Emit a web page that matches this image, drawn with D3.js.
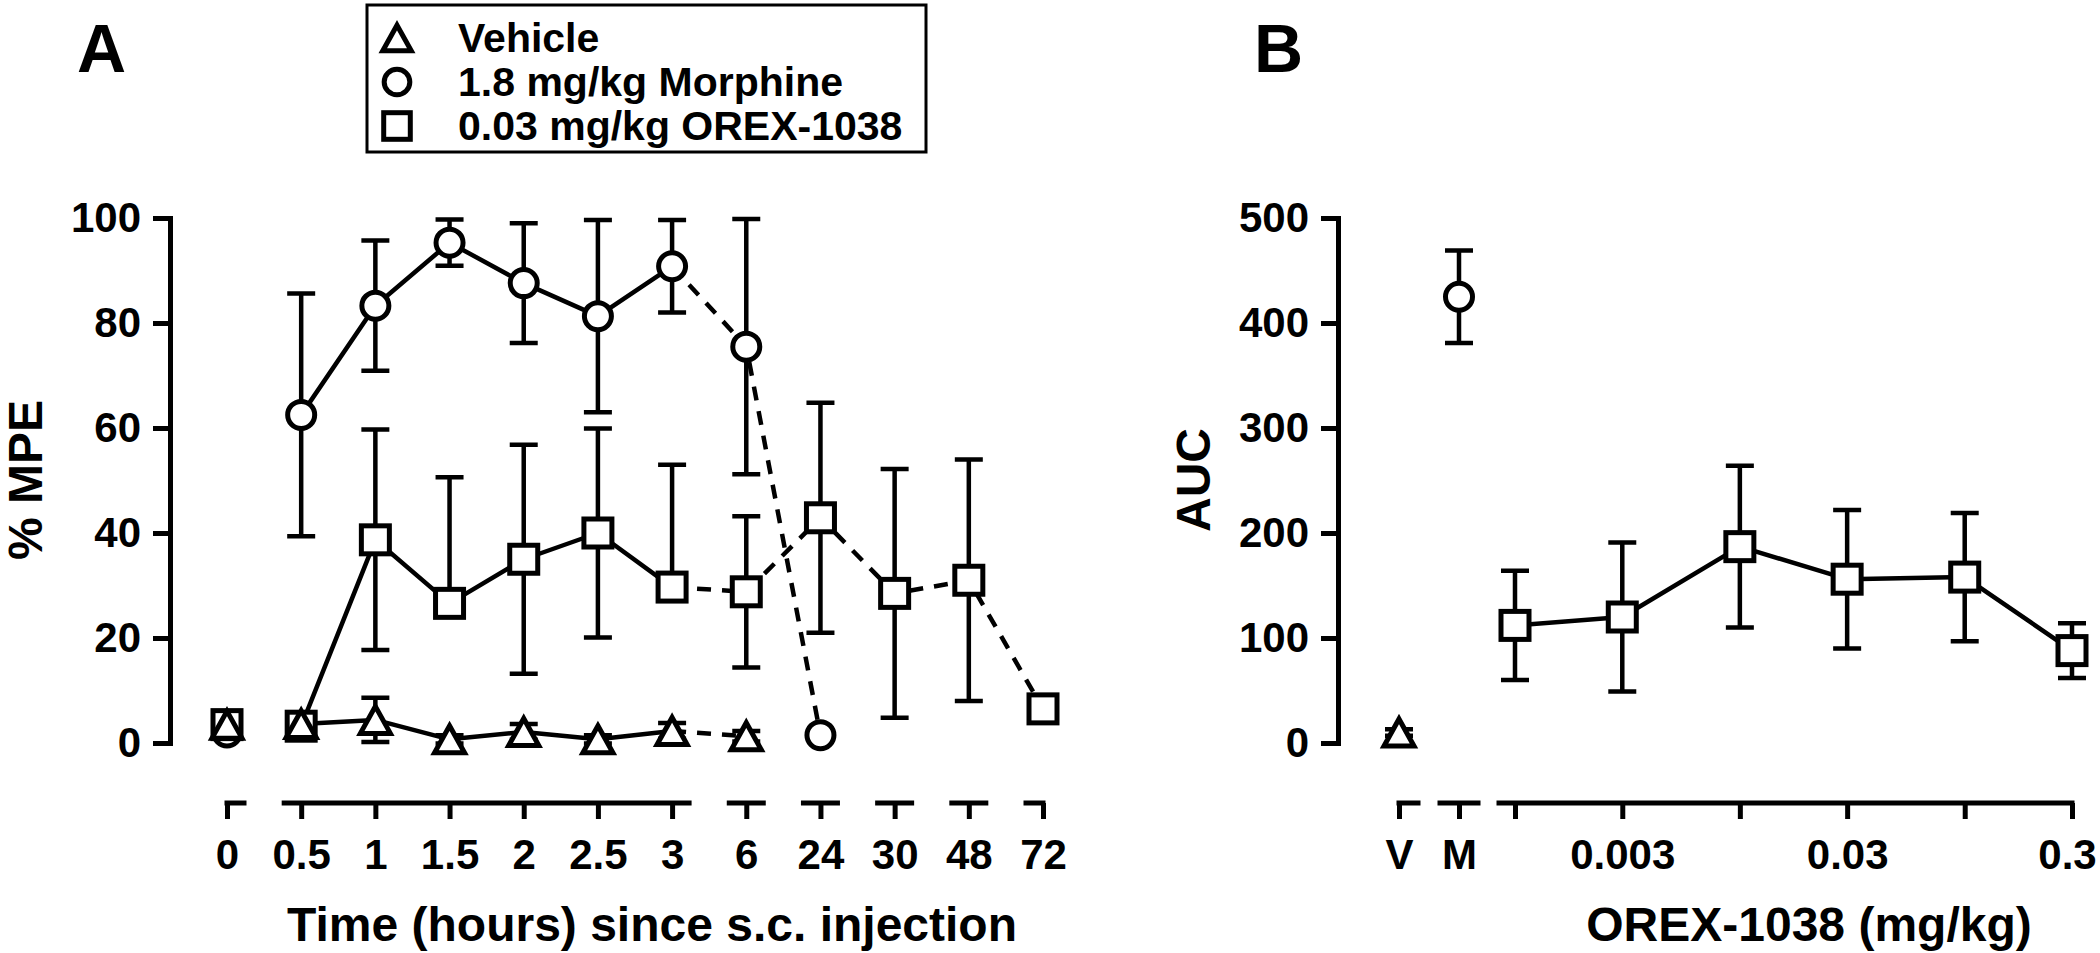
<!DOCTYPE html>
<html>
<head>
<meta charset="utf-8">
<script src="https://cdn.jsdelivr.net/npm/d3@7/dist/d3.min.js"></script>
<style>
  html, body { margin: 0; padding: 0; background: #fff; }
  svg { display: block; }
  text { font-family: "Liberation Sans", Arial, sans-serif; font-weight: bold; fill: #000; }
</style>
</head>
<body>
<svg id="chart" width="2100" height="953"></svg>
<script>
// ---------- DATA ----------
const timeLabels = ["0","0.5","1","1.5","2","2.5","3","6","24","30","48","72"];

const vehicleMean = [3.5, 3.6, 4.4, 0.7, 2.1, 0.7, 2.3, 1.3];          // 0 .. 6 h
const vehicleErr  = [1.5, 1.5, 4.2, 0.8, 1.5, 0.8, 1.5, 1.0];

const morphineMean = [2.0, 62.5, 83.3, 95.3, 87.6, 81.3, 90.8, 75.5, 1.5]; // 0 .. 24 h
const morphineErr  = [1.0, 23.1, 12.4, 4.4, 11.4, 18.3, 8.8, 24.3, 0];

const orexMean    = [3.5, 3.2, 38.7, 26.6, 35.0, 40.0, 29.7, 28.8, 42.9, 28.5, 31.0, 6.5]; // 0 .. 72 h
const orexErrHigh = [1.0, 1.0, 21.0, 24.0, 21.8, 19.9, 23.3, 14.4, 21.9, 23.7, 23.0, 0];
const orexErrLow  = [1.0, 1.0, 21.0, 0,    21.8, 19.9, 0,    14.4, 21.9, 23.7, 23.0, 0];

const yTicksA = [0, 20, 40, 60, 80, 100];
const xGroupsA = [["0"], ["0.5","1","1.5","2","2.5","3"], ["6"], ["24"], ["30"], ["48"], ["72"]];

// Panel B
const controlLabels = ["V", "M"];
const aucVehicle = 10, aucVehicleErr = 3;
const aucMorphine = 425, aucMorphineErr = 44;
const orexDoses = [0.001, 0.003, 0.01, 0.03, 0.1, 0.3];
const orexDoseLabels = ["", "0.003", "", "0.03", "", "0.3"];
const orexAUC = [112, 120, 187, 156, 158, 88];
const orexAUCErr = [52, 71, 77, 66, 61, 26];
const yTicksB = [0, 100, 200, 300, 400, 500];

const legendItems = [
  {shape: "triangle", label: "Vehicle"},
  {shape: "circle", label: "1.8 mg/kg Morphine"},
  {shape: "square", label: "0.03 mg/kg OREX-1038"}
];

// ---------- SETUP ----------
const svg = d3.select("#chart");
svg.append("rect").attr("width", 2100).attr("height", 953).attr("fill", "#fff");

const AX = 5, LW = 4.5, MS = 5;
const capHalf = 14;

const yA = d3.scaleLinear().domain([0, 100]).range([743, 218]);
const xA = d3.scalePoint().domain(timeLabels).range([227, 1043]);
const yB = d3.scaleLinear().domain([0, 500]).range([743, 218]);
const xBc = d3.scalePoint().domain(controlLabels).range([1399, 1459]);
const xBd = d3.scaleLog().domain([0.001, 0.3]).range([1515, 2072]);

function marker(g, shape, x, y, s) {
  s = s || 1;
  if (shape === "circle") {
    g.append("circle").attr("cx", x).attr("cy", y).attr("r", 13.5 * s)
      .attr("fill", "#fff").attr("stroke", "#000").attr("stroke-width", MS);
  } else if (shape === "square") {
    const h = 14 * s;
    g.append("rect").attr("x", x - h).attr("y", y - h).attr("width", 2 * h).attr("height", 2 * h)
      .attr("fill", "#fff").attr("stroke", "#000").attr("stroke-width", MS);
  } else {
    const hw = 15 * s, hh = 13.5 * s;
    g.append("path").attr("d", `M${x},${y - hh}L${x + hw},${y + hh}L${x - hw},${y + hh}Z`)
      .attr("fill", "#fff").attr("stroke", "#000").attr("stroke-width", MS)
      .attr("stroke-linejoin", "miter");
  }
}

function errBar(g, x, yTop, yBot, yMid) {
  const p = d3.path();
  if (yTop < yMid - 0.5) {
    p.moveTo(x, yMid); p.lineTo(x, yTop);
    p.moveTo(x - capHalf, yTop); p.lineTo(x + capHalf, yTop);
  }
  if (yBot > yMid + 0.5) {
    p.moveTo(x, yMid); p.lineTo(x, yBot);
    p.moveTo(x - capHalf, yBot); p.lineTo(x + capHalf, yBot);
  }
  g.append("path").attr("d", p.toString()).attr("fill", "none")
    .attr("stroke", "#000").attr("stroke-width", LW);
}

function styleAxis(g) {
  g.selectAll("text").attr("font-size", 42).attr("font-family", '"Liberation Sans", Arial, sans-serif')
    .attr("font-weight", "bold").attr("fill", "#000");
  g.selectAll("line").attr("stroke", "#000").attr("stroke-width", AX);
  g.selectAll(".domain").attr("stroke", "#000").attr("stroke-width", AX).attr("stroke-linecap", "square");
}

// ---------- PANEL A ----------
const gA = svg.append("g");

// y axis
const yAxA = gA.append("g").attr("transform", "translate(170,0)")
  .call(d3.axisLeft(yA).tickValues(yTicksA).tickSize(17).tickSizeOuter(0).tickPadding(12).tickFormat(d3.format("d")));
styleAxis(yAxA);

// x axis (segmented)
const xAxA = gA.append("g").attr("transform", "translate(0,803)")
  .call(d3.axisBottom(xA).tickSize(16).tickSizeOuter(0).tickPadding(20));
xAxA.select(".domain").remove();
styleAxis(xAxA);
xGroupsA.forEach((grp, i) => {
  const x0 = xA(grp[0]) - (i === 0 ? 0 : 17);
  const x1 = xA(grp[grp.length - 1]) + (i === xGroupsA.length - 1 ? 0 : 17);
  xAxA.append("line").attr("x1", x0).attr("x2", x1).attr("y1", 0).attr("y2", 0)
    .attr("stroke", "#000").attr("stroke-width", AX).attr("stroke-linecap", "square");
});

// axis titles
gA.append("text").attr("transform", "translate(42,480) rotate(-90)").attr("text-anchor", "middle")
  .attr("font-size", 48).text("% MPE");
gA.append("text").attr("x", 652).attr("y", 941).attr("text-anchor", "middle")
  .attr("font-size", 48).text("Time (hours) since s.c. injection");
gA.append("text").attr("x", 77).attr("y", 72).attr("font-size", 68).text("A");

// series
const seriesA = [
  {mean: morphineMean, hi: morphineErr, lo: morphineErr, shape: "circle", solidEnd: 6},
  {mean: orexMean, hi: orexErrHigh, lo: orexErrLow, shape: "square", solidEnd: 6},
  {mean: vehicleMean, hi: vehicleErr, lo: vehicleErr, shape: "triangle", solidEnd: 6}
];
const lineA = d3.line().x(d => xA(d.t)).y(d => yA(d.v));
const linesG = gA.append("g"), barsG = gA.append("g"), marksG = gA.append("g");
seriesA.forEach(s => {
  const pts = s.mean.map((v, i) => ({t: timeLabels[i], v}));
  linesG.append("path").attr("d", lineA(pts.slice(1, s.solidEnd + 1)))
    .attr("fill", "none").attr("stroke", "#000").attr("stroke-width", LW).attr("stroke-linejoin", "round");
  linesG.append("path").attr("d", lineA(pts.slice(s.solidEnd)))
    .attr("fill", "none").attr("stroke", "#000").attr("stroke-width", LW)
    .attr("stroke-dasharray", "14,11");
  pts.forEach((p, i) => {
    errBar(barsG, xA(p.t), yA(p.v + s.hi[i]), yA(p.v - s.lo[i]), yA(p.v));
  });
});
seriesA.forEach(s => {
  s.mean.forEach((v, i) => marker(marksG, s.shape, xA(timeLabels[i]), yA(v)));
});

// legend
const lg = svg.append("g");
lg.append("rect").attr("x", 367).attr("y", 5).attr("width", 559).attr("height", 147)
  .attr("fill", "#fff").attr("stroke", "#000").attr("stroke-width", 3);
legendItems.forEach((it, i) => {
  const base = 52 + i * 44;
  marker(lg, it.shape, 397, base - 14, 0.95);
  lg.append("text").attr("x", 458).attr("y", base)
    .attr("font-size", 41).text(it.label);
});

// ---------- PANEL B ----------
const gB = svg.append("g");
const yAxB = gB.append("g").attr("transform", "translate(1338,0)")
  .call(d3.axisLeft(yB).tickValues(yTicksB).tickSize(17).tickSizeOuter(0).tickPadding(12).tickFormat(d3.format("d")));
styleAxis(yAxB);

const xAxBc = gB.append("g").attr("transform", "translate(0,803)")
  .call(d3.axisBottom(xBc).tickSize(16).tickSizeOuter(0).tickPadding(20));
xAxBc.select(".domain").remove();
styleAxis(xAxBc);
const xAxBd = gB.append("g").attr("transform", "translate(0,803)")
  .call(d3.axisBottom(xBd).tickValues(orexDoses).tickSize(16).tickSizeOuter(0).tickPadding(20)
    .tickFormat((d, i) => orexDoseLabels[i]));
xAxBd.select(".domain").remove();
styleAxis(xAxBd);
xAxBd.selectAll(".tick:last-of-type text").attr("dx", -5);
// segments
[[xBc("V"), xBc("V") + 19], [xBc("M") - 19, xBc("M") + 19], [xBd(orexDoses[0]) - 16, xBd(orexDoses[orexDoses.length - 1])]]
  .forEach(([a, b]) => {
    gB.append("line").attr("x1", a).attr("x2", b).attr("y1", 803).attr("y2", 803)
      .attr("stroke", "#000").attr("stroke-width", AX).attr("stroke-linecap", "square");
  });

gB.append("text").attr("transform", "translate(1210,480) rotate(-90)").attr("text-anchor", "middle")
  .attr("font-size", 48).text("AUC");
gB.append("text").attr("x", 1809).attr("y", 941).attr("text-anchor", "middle")
  .attr("font-size", 48).text("OREX-1038 (mg/kg)");
gB.append("text").attr("x", 1254).attr("y", 72).attr("font-size", 68).text("B");

const lineB = d3.line().x(d => xBd(d.d)).y(d => yB(d.v));
const ptsB = orexDoses.map((d, i) => ({d, v: orexAUC[i], e: orexAUCErr[i]}));
gB.append("path").attr("d", lineB(ptsB)).attr("fill", "none").attr("stroke", "#000")
  .attr("stroke-width", LW).attr("stroke-linejoin", "round");
ptsB.forEach(p => errBar(gB, xBd(p.d), yB(p.v + p.e), yB(p.v - p.e), yB(p.v)));
errBar(gB, xBc("M"), yB(aucMorphine + aucMorphineErr), yB(aucMorphine - aucMorphineErr), yB(aucMorphine));
errBar(gB, xBc("V"), yB(aucVehicle + aucVehicleErr), yB(aucVehicle - aucVehicleErr), yB(aucVehicle));
ptsB.forEach(p => marker(gB, "square", xBd(p.d), yB(p.v)));
marker(gB, "circle", xBc("M"), yB(aucMorphine));
marker(gB, "triangle", xBc("V"), yB(aucVehicle));
</script>
</body>
</html>
